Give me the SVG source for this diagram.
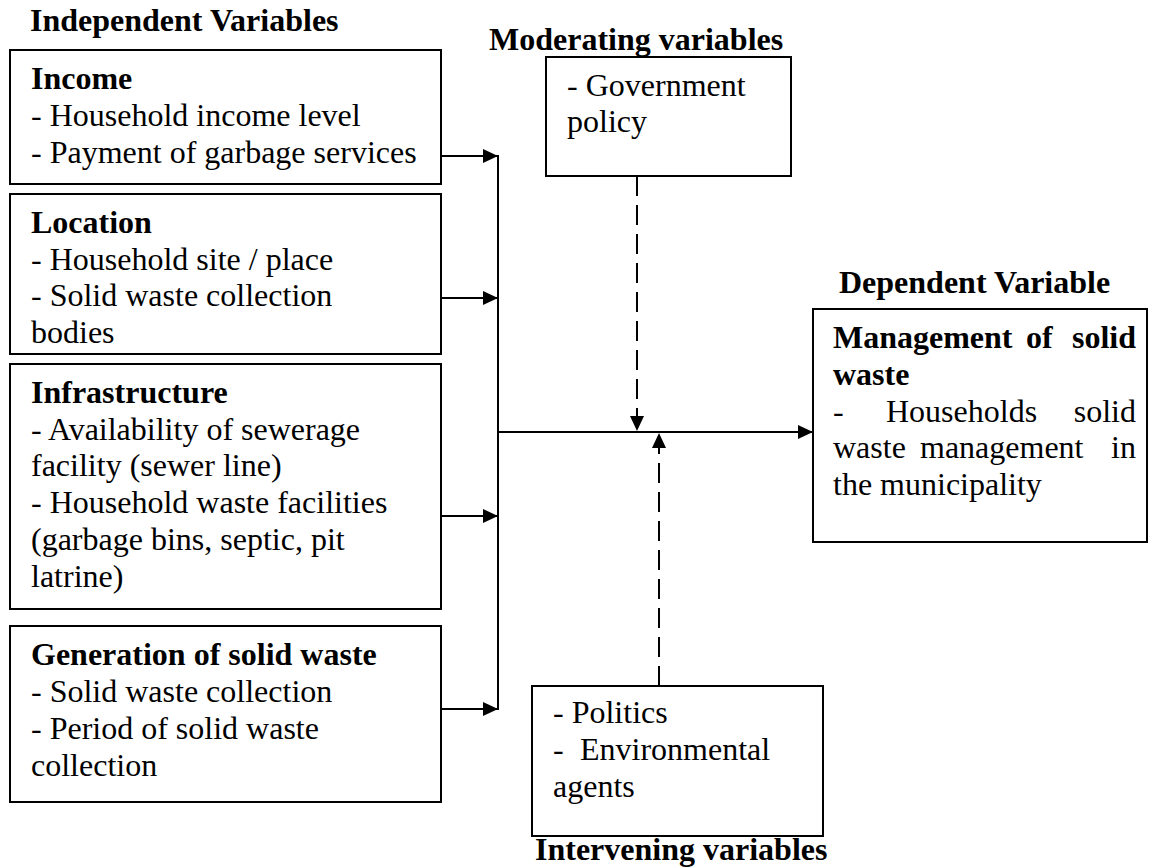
<svg xmlns="http://www.w3.org/2000/svg" width="1149" height="868" viewBox="0 0 1149 868">
<style>
text{font-family:"Liberation Serif","Times New Roman",serif;font-size:32px;fill:#000}
.b{font-weight:bold}
.box{fill:#fff;stroke:#000;stroke-width:2}
.ln{fill:none;stroke:#000;stroke-width:2}
.dash{fill:none;stroke:#000;stroke-width:2;stroke-dasharray:20 9}
</style>
<defs>
<marker id="ah" markerUnits="userSpaceOnUse" markerWidth="16" markerHeight="16" refX="15" refY="7" orient="auto">
<path d="M0,0 L15,7 L0,14 z" fill="#000"/>
</marker>
</defs>
<g id="titles">
<text class="b" x="30" y="31">Independent Variables</text>
<text class="b" x="489" y="50">Moderating variables</text>
<text class="b" x="839" y="293">Dependent Variable</text>
<text class="b" x="535" y="860">Intervening variables</text>
</g>
<g id="income">
<rect class="box" x="10" y="50" width="431" height="134"/>
<text class="b" x="31" y="89">Income</text>
<text x="31" y="126">- Household income level</text>
<text x="31" y="163">- Payment of garbage services</text>
</g>
<g id="location">
<rect class="box" x="10" y="194" width="431" height="160"/>
<text class="b" x="31" y="233">Location</text>
<text x="31" y="270">- Household site / place</text>
<text x="31" y="306">- Solid waste collection</text>
<text x="31" y="343">bodies</text>
</g>
<g id="infrastructure">
<rect class="box" x="10" y="364" width="431" height="245"/>
<text class="b" x="31" y="403">Infrastructure</text>
<text x="31" y="440">- Availability of sewerage</text>
<text x="31" y="476">facility (sewer line)</text>
<text x="31" y="513">- Household waste facilities</text>
<text x="31" y="550">(garbage bins, septic, pit</text>
<text x="31" y="587">latrine)</text>
</g>
<g id="generation">
<rect class="box" x="10" y="626" width="431" height="176"/>
<text class="b" x="31" y="665">Generation of solid waste</text>
<text x="31" y="702">- Solid waste collection</text>
<text x="31" y="739">- Period of solid waste</text>
<text x="31" y="776">collection</text>
</g>
<g id="moderating">
<rect class="box" x="546" y="57" width="245" height="119"/>
<text x="567" y="96">- Government</text>
<text x="567" y="132">policy</text>
</g>
<g id="dependent">
<rect class="box" x="813" y="309" width="334" height="233"/>
<text class="b" x="833" y="348">Management</text>
<text class="b" x="1026" y="348">of</text>
<text class="b" x="1136" y="348" text-anchor="end">solid</text>
<text class="b" x="833" y="385">waste</text>
<text x="833" y="422">-</text>
<text x="886" y="422">Households</text>
<text x="1136" y="422" text-anchor="end">solid</text>
<text x="833" y="458">waste</text>
<text x="920" y="458">management</text>
<text x="1136" y="458" text-anchor="end">in</text>
<text x="833" y="495">the municipality</text>
</g>
<g id="intervening">
<rect class="box" x="532" y="686" width="291" height="150"/>
<text x="553" y="723">- Politics</text>
<text x="553" y="760">-</text>
<text x="580" y="760">Environmental</text>
<text x="553" y="797">agents</text>
</g>
<g id="connectors">
<line class="ln" x1="441" y1="156" x2="498" y2="156" marker-end="url(#ah)"/>
<line class="ln" x1="441" y1="298" x2="498" y2="298" marker-end="url(#ah)"/>
<line class="ln" x1="441" y1="516" x2="498" y2="516" marker-end="url(#ah)"/>
<line class="ln" x1="441" y1="709" x2="498" y2="709" marker-end="url(#ah)"/>
<line class="ln" x1="498" y1="155" x2="498" y2="710"/>
<line class="ln" x1="498" y1="432" x2="813" y2="432" marker-end="url(#ah)"/>
<line class="dash" x1="637" y1="176" x2="637" y2="418"/>
<path d="M630,416 L644,416 L637,431 z" fill="#000"/>
<line class="dash" x1="659" y1="686" x2="659" y2="447"/>
<path d="M652,448 L666,448 L659,433 z" fill="#000"/>
</g>
</svg>
